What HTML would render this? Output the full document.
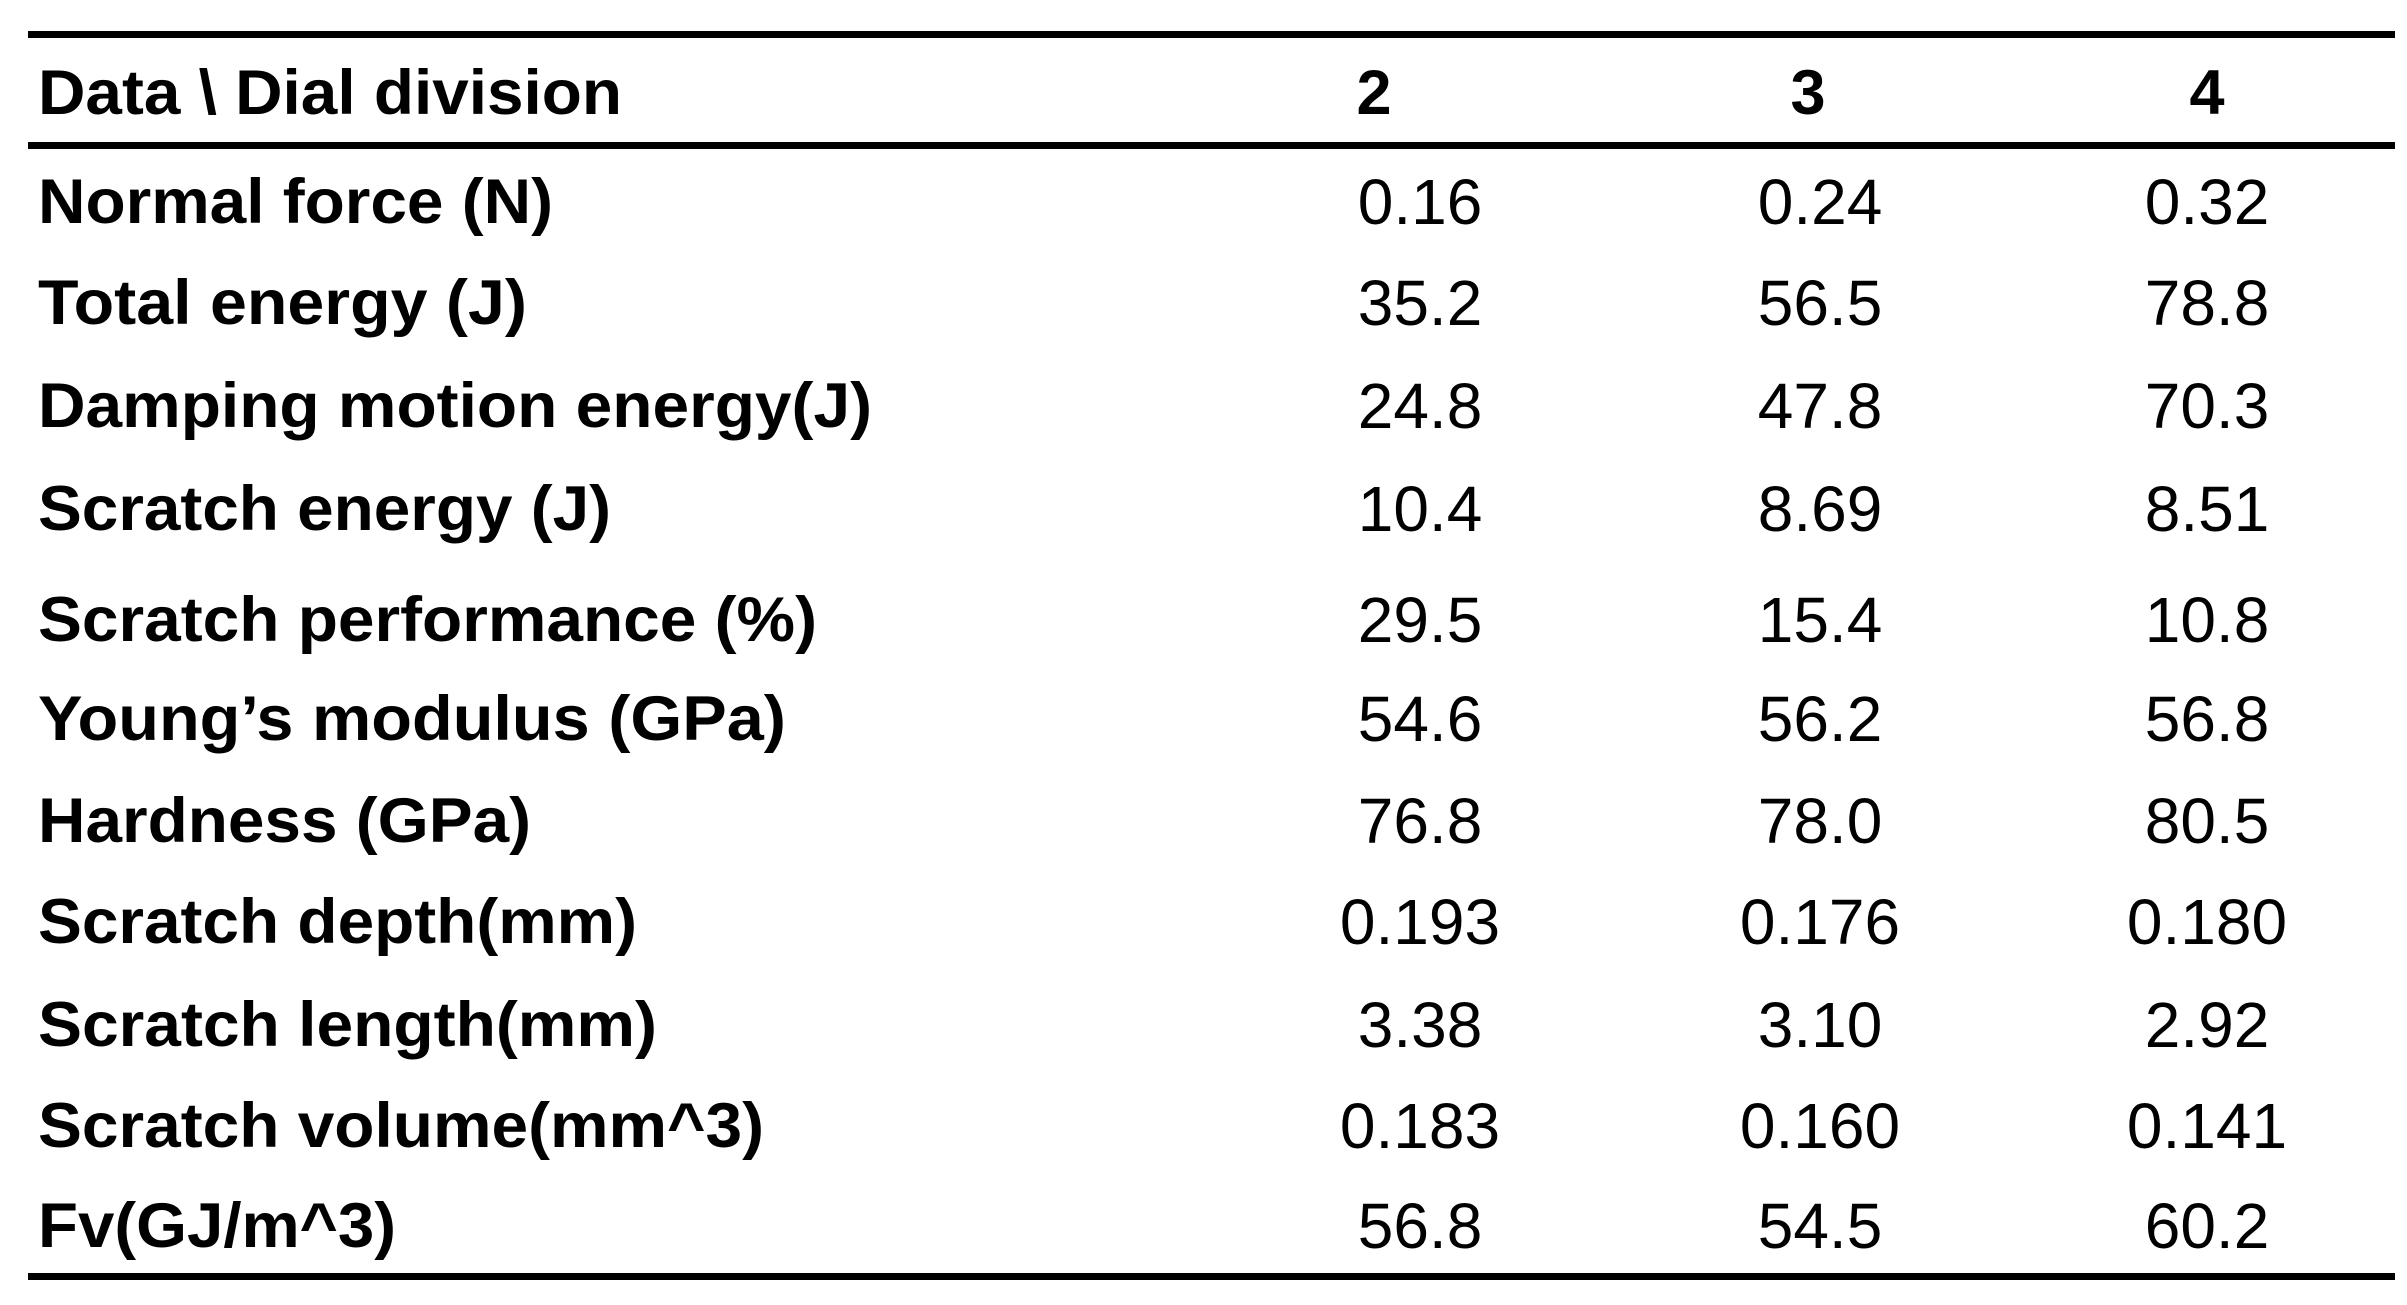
<!DOCTYPE html>
<html><head><meta charset="utf-8"><style>html,body{margin:0;padding:0;background:#fff}svg{display:block}</style></head>
<body>
<svg width="2407" height="1305" viewBox="0 0 2407 1305" xmlns="http://www.w3.org/2000/svg">
<rect width="2407" height="1305" fill="#fff"/>
<rect x="28" y="31" width="2367" height="7" fill="#000"/>
<rect x="28" y="142" width="2367" height="7" fill="#000"/>
<rect x="28" y="1273" width="2367" height="7" fill="#000"/>
<g font-family="Liberation Sans, Arial, sans-serif" font-weight="bold" font-size="63" fill="#000">
<text x="38" y="114" textLength="584" lengthAdjust="spacingAndGlyphs">Data \ Dial division</text>
<text x="1374" y="114" text-anchor="middle">2</text>
<text x="1808" y="114" text-anchor="middle">3</text>
<text x="2207" y="114" text-anchor="middle">4</text>
<text x="38" y="223" textLength="515" lengthAdjust="spacingAndGlyphs">Normal force (N)</text>
<text x="38" y="324" textLength="489" lengthAdjust="spacingAndGlyphs">Total energy (J)</text>
<text x="38" y="427" textLength="834" lengthAdjust="spacingAndGlyphs">Damping motion energy(J)</text>
<text x="38" y="530" textLength="573" lengthAdjust="spacingAndGlyphs">Scratch energy (J)</text>
<text x="38" y="641" textLength="779" lengthAdjust="spacingAndGlyphs">Scratch performance (%)</text>
<text x="38" y="740" textLength="748" lengthAdjust="spacingAndGlyphs">Young’s modulus (GPa)</text>
<text x="38" y="842" textLength="493" lengthAdjust="spacingAndGlyphs">Hardness (GPa)</text>
<text x="38" y="943" textLength="599" lengthAdjust="spacingAndGlyphs">Scratch depth(mm)</text>
<text x="38" y="1046" textLength="619" lengthAdjust="spacingAndGlyphs">Scratch length(mm)</text>
<text x="38" y="1147" textLength="726" lengthAdjust="spacingAndGlyphs">Scratch volume(mm^3)</text>
<text x="38" y="1247" textLength="358" lengthAdjust="spacingAndGlyphs">Fv(GJ/m^3)</text>
</g>
<g font-family="Liberation Sans, Arial, sans-serif" font-size="64" fill="#000" text-anchor="middle">
<text x="1420" y="224">0.16</text><text x="1820" y="224">0.24</text><text x="2207" y="224">0.32</text>
<text x="1420" y="325">35.2</text><text x="1820" y="325">56.5</text><text x="2207" y="325">78.8</text>
<text x="1420" y="428">24.8</text><text x="1820" y="428">47.8</text><text x="2207" y="428">70.3</text>
<text x="1420" y="531">10.4</text><text x="1820" y="531">8.69</text><text x="2207" y="531">8.51</text>
<text x="1420" y="642">29.5</text><text x="1820" y="642">15.4</text><text x="2207" y="642">10.8</text>
<text x="1420" y="741">54.6</text><text x="1820" y="741">56.2</text><text x="2207" y="741">56.8</text>
<text x="1420" y="843">76.8</text><text x="1820" y="843">78.0</text><text x="2207" y="843">80.5</text>
<text x="1420" y="944">0.193</text><text x="1820" y="944">0.176</text><text x="2207" y="944">0.180</text>
<text x="1420" y="1047">3.38</text><text x="1820" y="1047">3.10</text><text x="2207" y="1047">2.92</text>
<text x="1420" y="1148">0.183</text><text x="1820" y="1148">0.160</text><text x="2207" y="1148">0.141</text>
<text x="1420" y="1248">56.8</text><text x="1820" y="1248">54.5</text><text x="2207" y="1248">60.2</text>
</g>
</svg>
</body></html>
